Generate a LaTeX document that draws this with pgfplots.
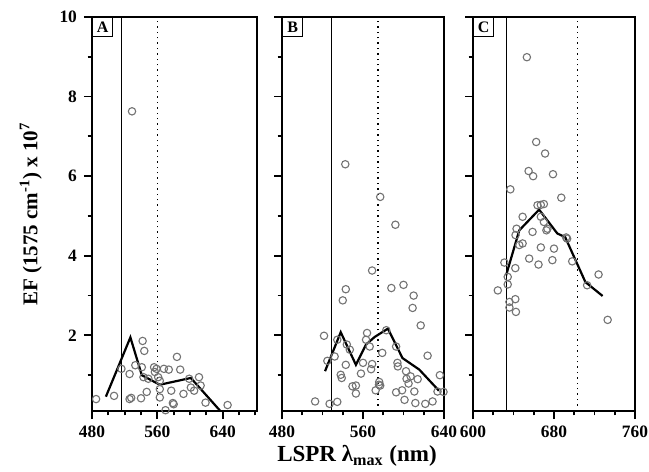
\documentclass[border=0pt]{standalone}
\usepackage{fontspec}
\setmainfont{Liberation Serif}
\usepackage{pgfplots}
\pgfplotsset{compat=1.18}
\tikzset{plab/.style={draw, line width=0.6pt, inner sep=0pt, anchor=north west, font=\bfseries\fontsize{8}{8}\selectfont, minimum width=10pt, minimum height=9.5pt, fill=white}}
\pgfplotsset{
  panel/.style={
    scale only axis, height=197pt, ymin=0.1, ymax=10,
    axis line style={line width=0.9pt},
    tick align=outside, tick pos=left,
    major tick length=4pt, minor tick length=2.2pt,
    every tick/.style={line width=0.9pt, black},
    ytick={2,4,6,8,10}, minor ytick={1,3,5,7,9},
    tick label style={font=\fontsize{8.7}{10}\selectfont\bfseries},
    /pgf/number format/assume math mode=true,
    /pgf/number format/1000 sep={},
  },
  pts/.style={only marks, mark=o, mark size=1.85pt, draw=black!55, mark options={line width=0.55pt}},
  fit/.style={black, line width=1.1pt, no marks},
  vsol/.style={black, line width=0.5pt, no marks},
  vdot/.style={black, line width=0.7pt, dotted, no marks},
}
\begin{document}
\begin{tikzpicture}
\path[use as bounding box] (0,0) rectangle (324.5pt,236pt);
% Panel A
\begin{axis}[panel, at={(46pt,30.5pt)}, anchor=south west, width=82.5pt,
  xmin=480, xmax=682, xtick={480,560,640}, minor xtick={500,520,540,580,600,620,660,680},
  ylabel={EF (1575 cm\textsuperscript{-1}) x 10\textsuperscript{7}},
  ylabel style={font=\fontsize{10.5}{12}\selectfont\bfseries, yshift=2pt}]
\addplot[vsol] coordinates {(516,0.1) (516,10)};
\addplot[vdot] coordinates {(560,0.1) (560,10)};
\addplot[pts] coordinates {
(485,0.40) (507,0.48) (516,1.16) (526,1.03) (526,0.40) (528,0.43) (529,7.63)
(533,1.25) (540,0.42) (542,1.86) (544,1.61) (541,1.20) (543,0.95) (547,0.58)
(549,0.91) (541,0.08) (556,1.20) (557,1.08) (559,1.16) (561,0.95) (563,0.86)
(563,0.65) (563,0.44) (568,1.16) (570,0.12) (574,1.14) (577,0.61) (579,0.30)
(580,0.27) (584,1.46) (588,1.14) (592,0.53) (599,0.91) (601,0.69) (605,0.61)
(611,0.95) (613,0.74) (619,0.31) (633,0.08) (646,0.25)};
\addplot[fit] coordinates {(497,0.46) (527,1.95) (541,1.00) (552,0.88) (563,0.76) (601,0.93) (638,0.08)};
\node[plab] at (rel axis cs:0,1) {A};
\end{axis}
% Panel B
\begin{axis}[panel, at={(141pt,30.5pt)}, anchor=south west, width=81pt,
  xmin=480, xmax=640, xtick={480,560,640}, minor xtick={500,520,540,580,600,620},
  yticklabels={},
  xlabel={LSPR λ\textsubscript{max} (nm)},
  xlabel style={font=\fontsize{11.5}{12}\selectfont\bfseries, yshift=3pt, xshift=-3pt}]
\addplot[vsol] coordinates {(529,0.1) (529,10)};
\addplot[vdot] coordinates {(575,0.1) (575,10)};
\addplot[pts] coordinates {
(512.7,0.34) (521.5,1.99) (524.8,1.36) (527,0.28) (532,1.47) (534.6,0.33) (534.6,1.89)
(538,1.01) (539,0.93) (540,2.88) (543,3.16) (543,1.26) (544,1.77) (547,1.64)
(549.6,0.72) (553,0.74) (553,0.54) (558,1.04) (560,1.31) (563,1.89) (564,2.06)
(566.6,1.72) (568,1.15) (569,1.28) (569,3.63) (572.5,0.62) (575.8,0.76) (576,0.83)
(577,0.74) (579,1.56) (583,2.13) (588,3.19) (592.7,1.72) (592.7,0.57) (594,1.31)
(594.4,1.22) (598.6,0.62) (600,3.27) (601,0.38) (602.5,1.10) (603,0.91) (605,0.79)
(607,0.97) (609,2.69) (610,3.00) (610.7,0.59) (611.7,0.30) (614,0.90) (617,2.25)
(621.5,0.28) (623.8,1.49) (628.7,0.34) (633.6,0.59) (635.9,1.00) (639.5,0.58)
(542.5,6.30) (577,5.48) (592,4.78)};
\addplot[fit] coordinates {(522.5,1.10) (538,2.08) (553,1.26) (563,1.77) (571.5,1.96) (584.6,2.17) (599,1.43) (615.6,1.14) (635,0.61)};
\node[plab] at (rel axis cs:0,1) {B};
\end{axis}
% Panel C
\begin{axis}[panel, at={(236.5pt,30.5pt)}, anchor=south west, width=81pt,
  xmin=600, xmax=760, xtick={600,680,760}, minor xtick={620,640,660,700,720,740},
  yticklabels={}]
\addplot[vsol] coordinates {(633,0.1) (633,10)};
\addplot[vdot] coordinates {(703,0.1) (703,10)};
\addplot[pts] coordinates {
(653.2,8.99) (662.4,6.86) (671.2,6.57) (654.9,6.13) (659.4,6.00) (679,6.05) (636.9,5.67)
(687.2,5.46) (663.7,5.27) (667,5.28) (670,5.30) (649,4.98) (667,4.98) (670,4.85)
(673.5,4.68) (643,4.68) (658.8,4.60) (692,4.46) (642,4.52) (649,4.31) (645.7,4.27)
(672.5,4.64) (693,4.43) (667,4.21) (680,4.18) (655.5,3.93) (664.7,3.78) (678.4,3.89)
(698,3.86) (631,3.83) (641.8,3.69) (634.3,3.47) (634.3,3.28) (624.5,3.13) (724,3.53)
(712.7,3.26) (641.8,2.91) (636,2.84) (636,2.70) (642.4,2.59) (733,2.39)};
\addplot[fit] coordinates {(632.7,3.51) (645.7,4.64) (665.3,5.16) (683.3,4.56) (691,4.47) (711,3.34) (728,2.99)};
\node[plab] at (rel axis cs:0,1) {C};
\end{axis}
\end{tikzpicture}
\end{document}
